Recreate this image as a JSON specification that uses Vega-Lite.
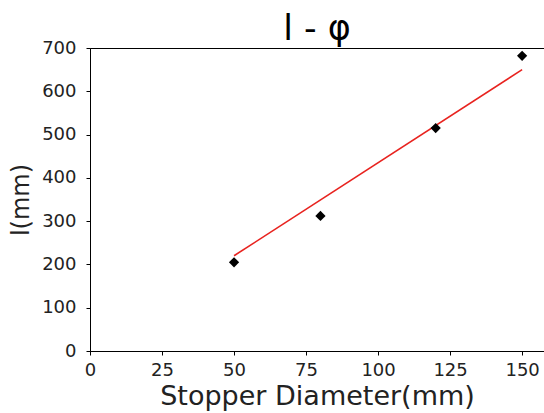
{
  "$schema": "https://vega.github.io/schema/vega-lite/v6.json",
  "autosize": {"type": "none"},
  "padding": {"left": 90, "top": 48, "right": 0, "bottom": 62},
  "width": 454,
  "height": 303,
  "background": "white",
  "config": {
    "font": "DejaVu Sans",
    "view": {"stroke": "black", "strokeWidth": 1},
    "axis": {"grid": false, "domainColor": "black", "tickColor": "black", "labelColor": "#222222", "titleColor": "#222222", "labelFontSize": 18, "titleFontWeight": "normal", "tickSize": 4, "labelFlush": false}
  },
  "title": {"text": "l - φ", "fontSize": 35, "fontWeight": "normal", "font": "DejaVu Sans", "color": "black", "offset": -8, "anchor": "middle"},
  "datasets": {
    "pts": [
      {"d": 50, "l": 205},
      {"d": 80, "l": 312},
      {"d": 120, "l": 515},
      {"d": 150, "l": 682}
    ],
    "fit": [
      {"d": 50, "l": 220},
      {"d": 150, "l": 650}
    ]
  },
  "layer": [
    {
      "data": {"name": "fit"},
      "mark": {"type": "line", "color": "#e8231f", "strokeWidth": 1.6},
      "encoding": {
        "x": {"field": "d", "type": "quantitative", "scale": {"domain": [0, 157.6], "nice": false}, "axis": {"values": [0, 25, 50, 75, 100, 125, 150], "title": "Stopper Diameter(mm)", "titleFontSize": 27, "titlePadding": 4, "labelPadding": 6}},
        "y": {"field": "l", "type": "quantitative", "scale": {"domain": [0, 700], "nice": false}, "axis": {"values": [0, 100, 200, 300, 400, 500, 600, 700], "title": "l(mm)", "titleFontSize": 24, "titlePadding": 8, "labelPadding": 10}}
      }
    },
    {
      "data": {"name": "pts"},
      "mark": {"type": "point", "shape": "diamond", "filled": true, "color": "black", "size": 105, "opacity": 1},
      "encoding": {
        "x": {"field": "d", "type": "quantitative"},
        "y": {"field": "l", "type": "quantitative"}
      }
    }
  ]
}
